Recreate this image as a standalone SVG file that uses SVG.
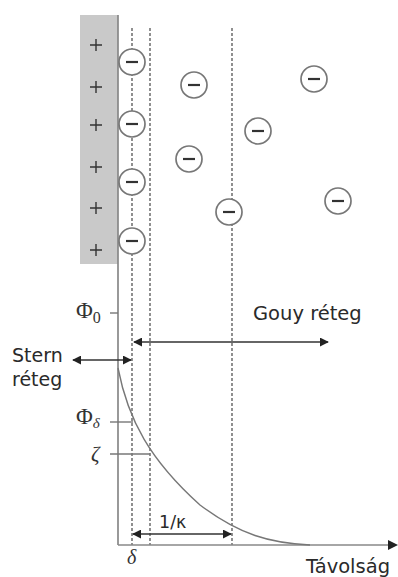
<svg xmlns="http://www.w3.org/2000/svg" width="398" height="577" viewBox="0 0 398 577">
<defs>
<marker id="ah" viewBox="0 0 10 10" refX="9" refY="5" markerWidth="9" markerHeight="9" markerUnits="userSpaceOnUse" orient="auto-start-reverse">
<path d="M0,0 L10,5 L0,10 z" fill="#222"/>
</marker>
<style>
.ion circle{fill:#fff;stroke:#777;stroke-width:1.7}
.ion line{stroke:#333;stroke-width:2.2}
.plus{stroke:#333;stroke-width:1.4}
.dash{stroke:#555;stroke-width:1.3;stroke-dasharray:3,2;fill:none}
.axis{stroke:#888;stroke-width:1.7;fill:none}
.arr{stroke:#333;stroke-width:1.4;fill:none}
.tick{stroke:#777;stroke-width:1.4}
.sans{font-family:"DejaVu Sans",sans-serif;fill:#2a2a2a}
.serif{font-family:"Liberation Serif","DejaVu Serif",serif;fill:#333}
</style>
</defs>
<rect width="398" height="577" fill="#fff"/>
<g id="surface">
<rect x="80" y="15" width="38" height="249" fill="#c9c9c9"/>
<g class="plus">
<path d="M90,45h12M96,39v12"/>
<path d="M90,87h12M96,81v12"/>
<path d="M90,125h12M96,119v12"/>
<path d="M90,167h12M96,161v12"/>
<path d="M90,208h12M96,202v12"/>
<path d="M90,250h12M96,244v12"/>
</g>
</g>
<g id="guides">
<line class="dash" x1="132" y1="28" x2="132" y2="545"/>
<line class="dash" x1="150" y1="28" x2="150" y2="545"/>
<line class="dash" x1="232" y1="28" x2="232" y2="545"/>
</g>
<g id="axes">
<line class="axis" x1="118" y1="15" x2="118" y2="545"/>
<line class="axis" x1="118" y1="545" x2="390" y2="545"/>
<path d="M388,540 L398,545 L388,550 z" fill="#222"/>
</g>
<g id="stern-ions">
<g class="ion"><circle cx="132" cy="62" r="13"/><line x1="126" y1="62" x2="138" y2="62"/></g>
<g class="ion"><circle cx="132" cy="124" r="13"/><line x1="126" y1="124" x2="138" y2="124"/></g>
<g class="ion"><circle cx="132" cy="182" r="13"/><line x1="126" y1="182" x2="138" y2="182"/></g>
<g class="ion"><circle cx="132" cy="241" r="13"/><line x1="126" y1="241" x2="138" y2="241"/></g>
</g>
<g id="diffuse-ions">
<g class="ion"><circle cx="194" cy="85" r="13"/><line x1="188" y1="85" x2="200" y2="85"/></g>
<g class="ion"><circle cx="314" cy="79" r="13"/><line x1="308" y1="79" x2="320" y2="79"/></g>
<g class="ion"><circle cx="258" cy="131" r="13"/><line x1="252" y1="131" x2="264" y2="131"/></g>
<g class="ion"><circle cx="189" cy="159" r="13"/><line x1="183" y1="159" x2="195" y2="159"/></g>
<g class="ion"><circle cx="229" cy="212" r="13"/><line x1="223" y1="212" x2="235" y2="212"/></g>
<g class="ion"><circle cx="338" cy="201" r="13"/><line x1="332" y1="201" x2="344" y2="201"/></g>
</g>
<g id="potential">
<path d="M118,368 C128,420 150,460 200,505 C240,535 270,543 310,545" fill="none" stroke="#777" stroke-width="1.4"/>
<line class="tick" x1="110" y1="313" x2="118" y2="313"/>
<line class="tick" x1="110" y1="422" x2="133" y2="422"/>
<line class="tick" x1="110" y1="454" x2="150" y2="454"/>
</g>
<g id="connectors">
<line class="arr" x1="134" y1="342" x2="328" y2="342" marker-start="url(#ah)" marker-end="url(#ah)"/>
<line class="arr" x1="73" y1="360" x2="131" y2="360" marker-start="url(#ah)" marker-end="url(#ah)"/>
<line class="arr" x1="133" y1="534" x2="231" y2="534" marker-start="url(#ah)" marker-end="url(#ah)"/>
</g>
<g id="labels">
<text class="serif" x="76" y="318" font-size="23">Φ<tspan font-size="16" dy="5">0</tspan></text>
<text class="serif" x="76" y="424" font-size="23">Φ<tspan font-size="15" dy="4" font-style="italic">δ</tspan></text>
<text class="serif" x="91" y="461" font-size="21" font-style="italic">ζ</text>
<text class="serif" x="127" y="564" font-size="20" font-style="italic">δ</text>
<text class="sans" x="253" y="320" font-size="19.5">Gouy réteg</text>
<text class="sans" x="12" y="362" font-size="19">Stern</text>
<text class="sans" x="12" y="386" font-size="19">réteg</text>
<text class="sans" x="159" y="528" font-size="17.5">1/κ</text>
<text class="sans" x="306" y="573" font-size="19.5">Távolság</text>
</g>
</svg>
